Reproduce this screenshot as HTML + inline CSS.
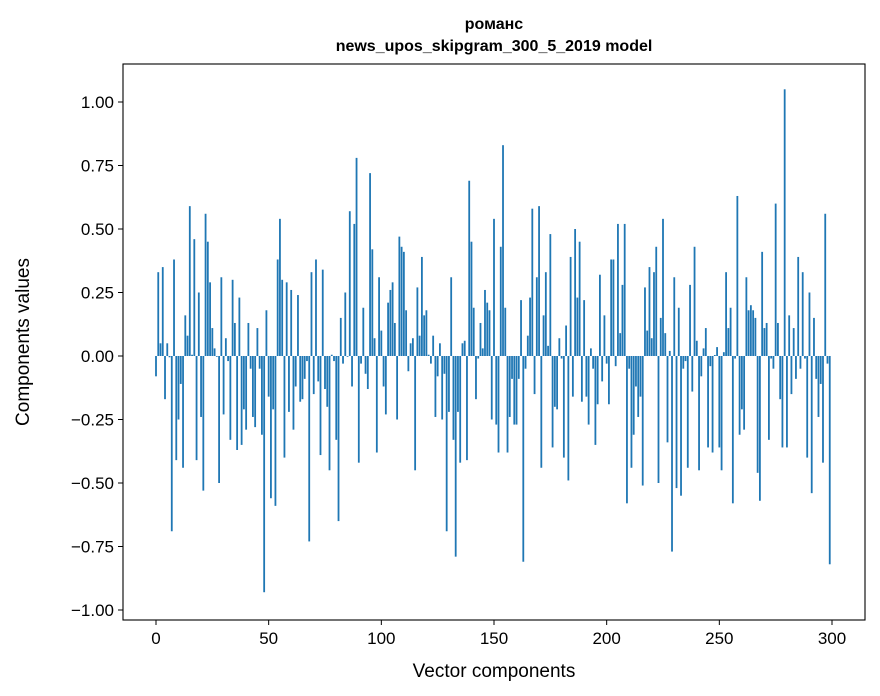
<!DOCTYPE html>
<html><head><meta charset="utf-8"><style>
body{margin:0;background:#fff;}
svg{display:block;font-family:"Liberation Sans","DejaVu Sans",sans-serif;}
</style></head><body>
<svg id="chart" width="880" height="696" viewBox="0 0 880 696" xmlns="http://www.w3.org/2000/svg">
<rect width="880" height="696" fill="#fff"/>
<text x="494" y="29" text-anchor="middle" font-size="16" font-weight="bold">романс</text>
<text x="494" y="51" text-anchor="middle" font-size="16" font-weight="bold">news_upos_skipgram_300_5_2019 model</text>
<g id="bars"></g>
<g id="axes"></g>
<text x="494" y="677" text-anchor="middle" font-size="19">Vector components</text>
<text transform="translate(29,342) rotate(-90)" text-anchor="middle" font-size="19">Components values</text>
</svg>
<script>
const values = [-0.08,0.33,0.05,0.35,-0.17,0.05,-0.005,-0.69,0.38,-0.41,-0.25,-0.11,-0.44,0.16,0.08,0.59,0.005,0.46,-0.41,0.25,-0.24,-0.53,0.56,0.45,0.29,0.11,0.03,-0.003,-0.50,0.31,-0.23,0.07,-0.02,-0.33,0.30,0.13,-0.37,0.23,-0.35,-0.21,-0.29,0.13,-0.05,-0.24,-0.28,0.11,-0.05,-0.31,-0.93,0.18,-0.16,-0.56,-0.21,-0.59,0.38,0.54,0.30,-0.40,0.29,-0.22,
0.26,-0.29,-0.12,0.24,-0.18,-0.17,-0.09,-0.02,-0.73,0.33,-0.15,0.38,-0.10,-0.39,0.34,-0.13,-0.20,-0.45,0.005,-0.02,-0.33,-0.65,0.15,-0.03,0.25,-0.003,0.57,-0.12,0.52,0.78,-0.42,-0.03,0.19,-0.07,-0.13,0.72,0.42,0.07,-0.38,0.31,0.10,-0.12,-0.23,0.21,0.26,0.29,0.13,-0.25,0.47,0.43,0.41,0.18,-0.06,0.05,0.07,-0.45,0.27,0.08,0.39,0.16,
0.18,0.005,-0.03,0.08,-0.24,-0.08,0.05,-0.25,-0.07,-0.69,-0.22,0.31,-0.33,-0.79,-0.22,-0.42,0.05,0.06,-0.41,0.69,0.45,0.19,-0.17,-0.01,0.13,0.03,0.26,0.21,0.18,-0.25,0.54,-0.27,-0.38,0.43,0.83,0.19,-0.38,-0.24,-0.09,-0.27,-0.27,-0.09,0.22,-0.81,-0.05,0.08,0.23,0.58,-0.15,0.31,0.59,-0.44,0.16,0.33,0.04,0.48,-0.36,-0.20,-0.21,0.07,
-0.01,-0.40,0.12,-0.49,0.39,-0.16,0.50,0.23,0.45,-0.18,0.22,-0.16,-0.27,0.03,-0.05,-0.35,-0.19,0.32,-0.10,0.16,-0.03,-0.19,0.38,0.38,-0.04,0.52,0.09,0.28,0.52,-0.58,-0.05,-0.44,-0.31,-0.12,-0.24,-0.16,-0.51,0.27,0.10,0.35,0.07,0.33,0.43,-0.50,0.15,0.54,0.09,-0.34,0.02,-0.77,0.31,-0.52,0.19,-0.55,-0.05,-0.02,-0.44,0.28,-0.14,
0.43,0.06,-0.45,-0.08,0.03,0.11,-0.36,-0.04,-0.38,0.004,0.035,-0.36,-0.45,0.015,0.33,0.11,0.19,-0.58,-0.01,0.63,-0.31,-0.21,-0.29,0.31,0.18,0.20,0.18,0.15,-0.46,-0.57,0.41,0.11,0.13,-0.33,-0.01,-0.05,0.60,0.13,-0.17,-0.36,1.05,-0.36,0.16,-0.15,0.11,-0.09,0.39,-0.05,0.33,-0.01,-0.40,0.25,-0.54,0.15,-0.09,-0.24,-0.11,-0.42,0.56,-0.03,-0.82];
const yTicks = [-1.00,-0.75,-0.50,-0.25,0.00,0.25,0.50,0.75,1.00];
const xTicks = [0,50,100,150,200,250,300];

const L=123,R=865,T=64,B=620;
const x = v => 156 + v*(832-156)/300;
const y = v => 356 - v*254;
const NS='http://www.w3.org/2000/svg';
const bars=document.getElementById('bars');
const axes=document.getElementById('axes');
const bw=0.8*(832-156)/300;
values.forEach((v,i)=>{
  const r=document.createElementNS(NS,'rect');
  
  
  r.setAttribute('x',x(i)-bw/2);
  r.setAttribute('y',Math.min(y(v),y(0)));
  r.setAttribute('width',bw);
  r.setAttribute('height',Math.abs(y(v)-y(0)));
  r.setAttribute('fill','#1f77b4');
  bars.appendChild(r);
});
const frame=document.createElementNS(NS,'rect');


frame.setAttribute('x',L);frame.setAttribute('y',T);
frame.setAttribute('width',R-L);frame.setAttribute('height',B-T);
frame.setAttribute('fill','none');frame.setAttribute('stroke','#000');frame.setAttribute('stroke-width','1.1');
axes.appendChild(frame);
yTicks.forEach(t=>{
  const l=document.createElementNS(NS,'line');
  
  
  l.setAttribute('x1',L-5);l.setAttribute('x2',L);
  l.setAttribute('y1',y(t));l.setAttribute('y2',y(t));
  l.setAttribute('stroke','#000');
  axes.appendChild(l);
  const tx=document.createElementNS(NS,'text');
  
  
  tx.setAttribute('x',L-9);tx.setAttribute('y',y(t)+6);
  tx.setAttribute('text-anchor','end');tx.setAttribute('font-size','17');
  tx.textContent=(t<0?'\u2212':'')+Math.abs(t).toFixed(2);
  axes.appendChild(tx);
});
xTicks.forEach(t=>{
  const l=document.createElementNS(NS,'line');
  
  
  l.setAttribute('x1',x(t));l.setAttribute('x2',x(t));
  l.setAttribute('y1',B);l.setAttribute('y2',B+5);
  l.setAttribute('stroke','#000');
  axes.appendChild(l);
  const tx=document.createElementNS(NS,'text');
  
  
  tx.setAttribute('x',x(t));tx.setAttribute('y',B+24);
  tx.setAttribute('text-anchor','middle');tx.setAttribute('font-size','17');
  tx.textContent=t;
  axes.appendChild(tx);
});
</script>
</body></html>
